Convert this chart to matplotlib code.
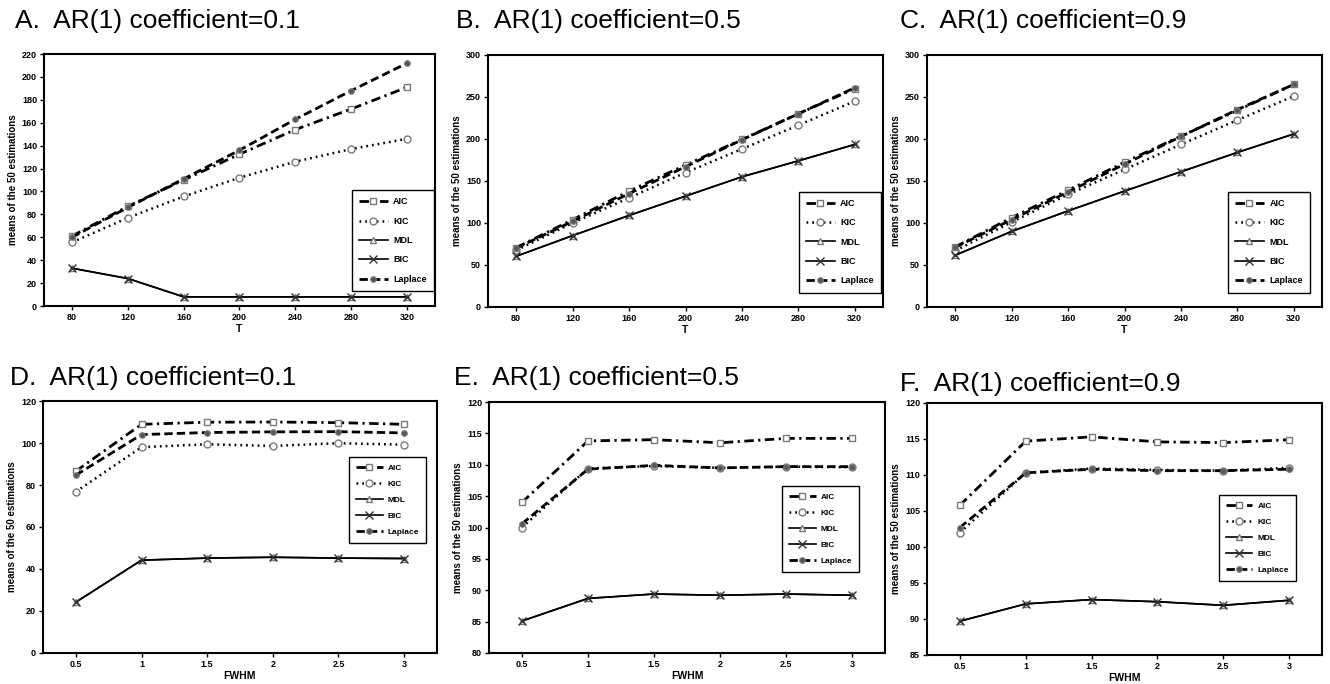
import matplotlib
matplotlib.use("Agg")
import matplotlib.pyplot as plt

plt.rcParams['font.family'] = ['Liberation Sans', 'DejaVu Sans']

T = [80, 120, 160, 200, 240, 280, 320]
FWHM = [0.5, 1, 1.5, 2, 2.5, 3]

# Panel A (AR=0.1, vs T)
A_AIC = [61, 87, 110, 132.5, 154, 172, 191]
A_KIC = [55.5, 77, 95.6, 112, 126, 137, 146]
A_MDL = [33, 24, 8, 8, 8, 8, 8]
A_BIC = [33, 24, 8, 8, 8, 8, 8]
A_LAP = [60, 86, 111, 136, 163, 188, 212]

# Panel B (AR=0.5, vs T)
B_AIC = [70.7, 104, 138, 169, 199.5, 230, 260]
B_KIC = [67.5, 100, 130, 160, 188, 216.5, 245]
B_MDL = [60.4, 85, 109, 132, 155, 174, 193.5]
B_BIC = [60.4, 85, 109, 132, 155, 174, 193.5]
B_LAP = [70, 102, 135, 167, 199, 230, 261]

# Panel C (AR=0.9, vs T)
C_AIC = [71.5, 106.5, 139, 172.4, 203.4, 234, 265]
C_KIC = [67, 101, 134, 163.7, 193.5, 222.5, 251]
C_MDL = [61.6, 90, 114.4, 138, 161, 184, 206]
C_BIC = [61.6, 90, 114.4, 138, 161, 184, 206]
C_LAP = [71, 104, 137, 170, 203, 235, 265]

# Panel D (AR=0.1, vs FWHM)
D_AIC = [86.6, 108.9, 109.9, 110, 109.7, 108.9]
D_KIC = [76.8, 98, 99.4, 98.6, 99.9, 99.2]
D_MDL = [24.2, 44.2, 45.2, 45.6, 45.2, 45]
D_BIC = [24.2, 44.2, 45.2, 45.6, 45.2, 45]
D_LAP = [84.7, 104, 105, 105.3, 105.4, 104.8]

# Panel E (AR=0.5, vs FWHM)
E_AIC = [104, 113.8, 114, 113.5, 114.2, 114.2]
E_KIC = [100, 109.4, 109.8, 109.5, 109.7, 109.6]
E_MDL = [85.1, 88.7, 89.4, 89.2, 89.4, 89.2]
E_BIC = [85.1, 88.7, 89.4, 89.2, 89.4, 89.2]
E_LAP = [100.6, 109.3, 109.9, 109.5, 109.7, 109.7]

# Panel F (AR=0.9, vs FWHM)
F_AIC = [105.8, 114.7, 115.3, 114.6, 114.5, 114.9]
F_KIC = [102, 110.3, 110.9, 110.7, 110.6, 111]
F_MDL = [89.7, 92.1, 92.7, 92.4, 91.9, 92.6]
F_BIC = [89.7, 92.1, 92.7, 92.4, 91.9, 92.6]
F_LAP = [102.7, 110.3, 110.8, 110.6, 110.6, 110.8]

titles = ["A.  AR(1) coefficient=0.1", "B.  AR(1) coefficient=0.5", "C.  AR(1) coefficient=0.9",
          "D.  AR(1) coefficient=0.1", "E.  AR(1) coefficient=0.5", "F.  AR(1) coefficient=0.9"]

W, H = 1330, 684
fig = plt.figure(figsize=(W / 100, H / 100), dpi=100)

# pixel boxes: left, right, top, bottom
boxes = [(44, 435, 54, 306), (488, 883, 55, 307), (927, 1322, 55, 307),
         (43, 437, 401, 653), (489, 885, 402, 653), (927, 1322, 403, 655)]
title_pos = [(157, 21), (598, 21), (1043, 21), (153, 378), (596, 378), (1040, 384)]
legend_anchor = [(0.775, 0.478), (0.775, 0.476), (0.75, 0.476),
                 (0.767, 0.794), (0.73, 0.681), (0.729, 0.651)]

panels = [
    (T, A_AIC, A_KIC, A_MDL, A_BIC, A_LAP, (0, 220), list(range(0, 221, 20)), "T"),
    (T, B_AIC, B_KIC, B_MDL, B_BIC, B_LAP, (0, 300), list(range(0, 301, 50)), "T"),
    (T, C_AIC, C_KIC, C_MDL, C_BIC, C_LAP, (0, 300), list(range(0, 301, 50)), "T"),
    (FWHM, D_AIC, D_KIC, D_MDL, D_BIC, D_LAP, (0, 120), list(range(0, 121, 20)), "FWHM"),
    (FWHM, E_AIC, E_KIC, E_MDL, E_BIC, E_LAP, (80, 120), list(range(80, 121, 5)), "FWHM"),
    (FWHM, F_AIC, F_KIC, F_MDL, F_BIC, F_LAP, (85, 120), list(range(85, 121, 5)), "FWHM"),
]

mk_edge = '#7a7a7a'
for i, (x, aic, kic, mdl, bic, lap, ylim, yticks, xlab) in enumerate(panels):
    l, r, t, b = boxes[i]
    ax = fig.add_axes([l / W, 1 - b / H, (r - l) / W, (b - t) / H])
    ax.plot(x, aic, color='black', lw=2.0, dashes=(3.4, 1.6, 0.8, 1.6),
            marker='s', ms=5, mfc='white', mec=mk_edge, mew=1.0, label='AIC', zorder=4)
    ax.plot(x, kic, color='black', lw=1.8, linestyle=(0, (0.7, 1.6)),
            marker='o', ms=5, mfc='white', mec=mk_edge, mew=1.0, label='KIC', zorder=3)
    ax.plot(x, mdl, color='black', lw=1.2, linestyle='-',
            marker='^', ms=5, mfc='white', mec=mk_edge, mew=1.0, label='MDL', zorder=2)
    ax.plot(x, bic, color='black', lw=1.2, linestyle='-',
            marker='x', ms=6, mec='#333333', mew=1.0, label='BIC', zorder=3)
    ax.plot(x, lap, color='black', lw=2.0, dashes=(3.0, 1.5),
            marker='o', ms=4, mfc='#555555', mec=mk_edge, mew=0.8, label='Laplace', zorder=5)
    ax.set_ylim(*ylim)
    ax.set_yticks(yticks)
    if xlab == "T":
        ax.set_xlim(60, 340)
        ax.set_xticks(x)
        ax.set_xticklabels([str(v) for v in x])
    else:
        ax.set_xlim(0.25, 3.25)
        ax.set_xticks(x)
        ax.set_xticklabels([f"{v:g}" for v in x])
    for s in ax.spines.values():
        s.set_linewidth(1.5)
    ax.tick_params(direction='out', length=3, width=1, labelsize=6.5, pad=2)
    for lab in ax.get_xticklabels() + ax.get_yticklabels():
        lab.set_fontweight('bold')
    ax.set_xlabel(xlab, fontsize=7.5, fontweight='bold', labelpad=1.5)
    ax.set_ylabel("means of the 50 estimations", fontsize=7, fontweight='bold', labelpad=3)
    fs = 6.5 if i < 3 else 6
    leg = ax.legend(loc='upper left', bbox_to_anchor=legend_anchor[i], frameon=True,
                    fancybox=False, edgecolor='black', framealpha=1, handlelength=3.2,
                    labelspacing=1.15 if i < 3 else 1.0, borderpad=0.8,
                    prop={'size': fs, 'weight': 'bold'}, handletextpad=0.6)
    leg.get_frame().set_linewidth(1.0)
    tx, ty = title_pos[i]
    fig.text(tx / W, 1 - ty / H, titles[i], fontsize=19, ha='center', va='center')

fig.savefig("out.png", dpi=100)
